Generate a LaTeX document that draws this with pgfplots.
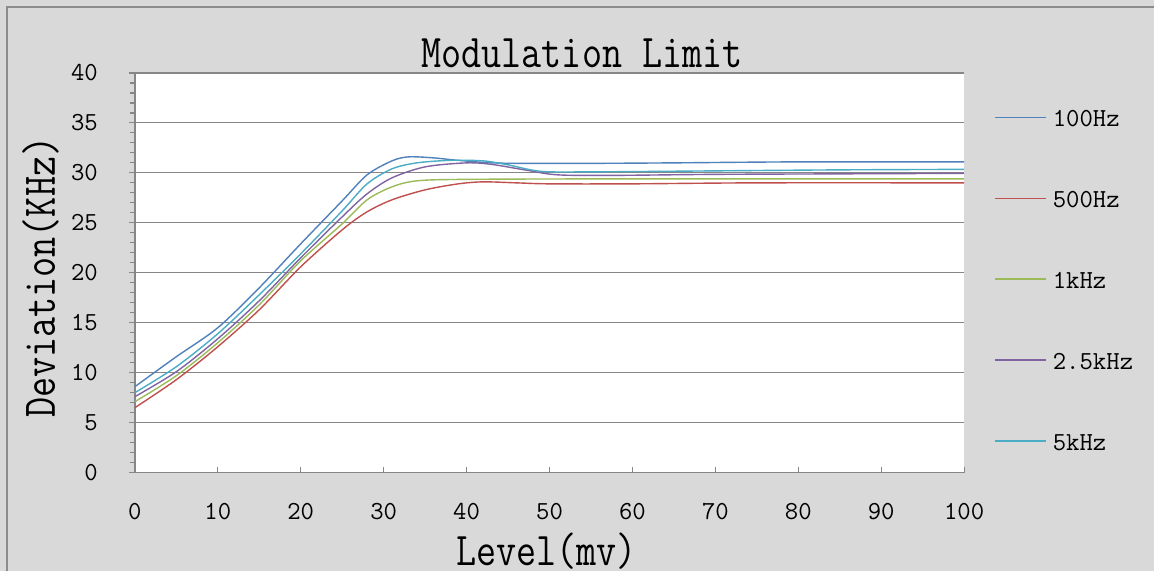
\documentclass[border=0pt]{standalone}
\usepackage{fontspec}
\setmainfont{Latin Modern Mono}
\newfontfamily\lblfont[FakeStretch=0.83]{Latin Modern Mono}
\usepackage{pgfplots}
\usepackage{pgfplotstable}
\pgfplotsset{compat=1.18}

\definecolor{bggray}{HTML}{D9D9D9}
\definecolor{framegray}{HTML}{8C8C8C}
\definecolor{gridgray}{HTML}{868686}
\definecolor{cA}{HTML}{4F81BD}
\definecolor{cB}{HTML}{C0504D}
\definecolor{cC}{HTML}{9BBB59}
\definecolor{cD}{HTML}{8064A2}
\definecolor{cE}{HTML}{4BACC6}

% level (mv)  deviation (kHz)
\pgfplotstableread{
x y
0 8.6
5 11.6
10 14.5
15 18.5
20 22.9
25 27.2
28 29.8
31 31.2
33 31.6
36 31.5
39 31.25
43 31.0
47 30.95
55 30.95
65 31.0
80 31.1
100 31.1
}\hundred
\pgfplotstableread{
x y
0 6.5
5 9.3
10 12.6
15 16.3
20 20.6
25 24.3
28 26.1
31 27.3
35 28.3
39 28.9
42 29.1
46 29.0
50 28.9
60 28.9
75 29.0
100 29.0
}\fivehundred
\pgfplotstableread{
x y
0 7.1
5 9.7
10 13.0
15 16.8
20 21.2
25 24.9
28 27.3
31 28.6
34 29.2
40 29.35
60 29.4
100 29.4
}\onek
\pgfplotstableread{
x y
0 7.6
5 10.1
10 13.4
15 17.2
20 21.5
25 25.6
28 27.9
31 29.5
35 30.6
40 31.0
43 30.85
47 30.3
51 29.8
58 29.75
70 29.85
85 29.9
100 29.95
}\twofivek
\pgfplotstableread{
x y
0 8.0
5 10.6
10 13.9
15 17.8
20 21.9
25 26.2
28 28.9
31 30.4
34 31.0
38 31.25
42 31.2
45 30.8
49 30.15
55 30.1
70 30.2
85 30.3
100 30.35
}\fivek

\begin{document}
\begin{tikzpicture}[x=1pt,y=1pt]
% whole page, plot area lower left at (0,0), 1px = 0.5pt
\fill[bggray] (-67.5,-49) rectangle (510,236.5);
\draw[framegray, line width=1pt] (-64,-49) -- (-64,233) -- (510,233);

\begin{axis}[
  at={(0,0)}, anchor=south west,
  scale only axis, width=415pt, height=200pt,
  xmin=0, xmax=100, ymin=0, ymax=40,
  xtick={0,10,...,100}, ytick={0,5,...,40},
  minor y tick num=4,
  axis x line*=bottom, axis y line*=left,
  axis line style={draw=gridgray, line width=0.8pt},
  ymajorgrids, major grid style={draw=gridgray, line width=0.6pt},
  axis background/.style={fill=white},
  tick style={draw=gridgray, line width=0.6pt},
  major tick length=3pt, minor tick length=2.5pt,
  xtick align=inside, ytick align=outside,
  ticklabel style={font=\fontsize{13}{13}\selectfont},
  /pgf/number format/assume math mode=true,
  yticklabel style={xshift=-12pt},
  xticklabel style={yshift=-12pt},
  legend cell align=left,
  legend style={at={(axis description cs:1.0361,0.9125)}, anchor=north west,
    draw=none, fill=none, inner sep=0pt,
    font=\fontsize{13}{13}\selectfont,
    nodes={inner sep=0pt, text height=9pt, text depth=0pt},
    row sep=31.5pt, column sep=3pt},
  legend image code/.code={\draw[#1] (0pt,0pt) -- (25.5pt,0pt);},
  every axis plot/.append style={line width=0.7pt, smooth},
]
\addplot[cA] table {\hundred};
\addplot[cB] table {\fivehundred};
\addplot[cC] table {\onek};
\addplot[cD] table {\twofivek};
\addplot[cE] table {\fivek};
\legend{100Hz,500Hz,1kHz,2.5kHz,5kHz}
\end{axis}

\node[font=\lblfont\fontsize{23.5}{24}\selectfont, anchor=base] at (223.75,202.5) {Modulation Limit};
\node[font=\lblfont\fontsize{23.5}{24}\selectfont, anchor=base] at (206,-46.5) {Level(mv)};
\node[font=\lblfont\fontsize{23.5}{24}\selectfont, anchor=base, rotate=90] at (-40,97.75) {Deviation(KHz)};
\end{tikzpicture}
\end{document}
